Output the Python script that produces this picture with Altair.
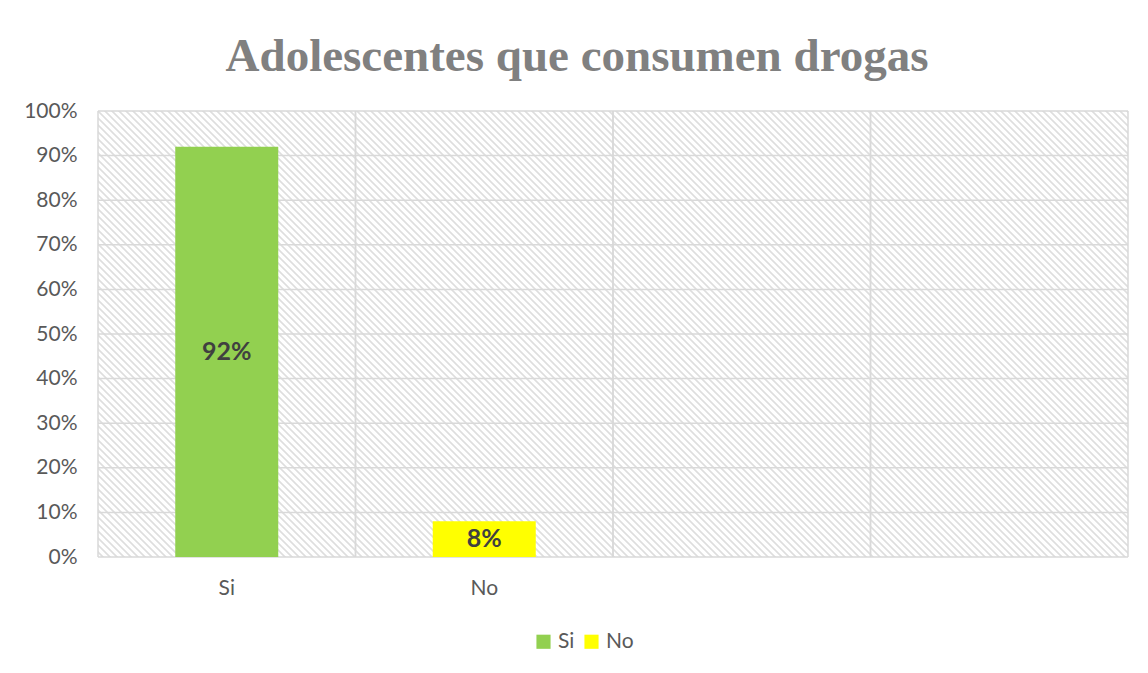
import base64
import altair as alt
import pandas as pd

# ---- data ----
categories = ["Si", "No", "c3", "c4"]
bar_cats = ["Si", "No"]
bar_values = [0.92, 0.08]
bar_labels = ["92%", "8%"]
bar_colors = ["#92D050", "#FFFF00"]
y_ticks = [0.0, 0.1, 0.2, 0.3, 0.4, 0.5, 0.6, 0.7, 0.8, 0.9, 1.0]
title_text = "Adolescentes que consumen drogas"

W, H = 1030, 446

df_bars = pd.DataFrame({"cat": bar_cats, "v": bar_values, "lab": bar_labels})
df_cats = pd.DataFrame({"cat": categories})
df_ticks = pd.DataFrame({"t": y_ticks})
df_one = pd.DataFrame({"k": [0]})

# hatch background as an svg pattern image
svg = (
    f"<svg xmlns='http://www.w3.org/2000/svg' width='{W}' height='{H}'>"
    "<defs><pattern id='p' width='7' height='7' patternUnits='userSpaceOnUse'>"
    "<path d='M-1,-1 L8,8 M-1,6 L1,8 M6,-1 L8,1' stroke='#dedede' stroke-width='1.6'/>"
    "</pattern></defs><rect width='100%' height='100%' fill='white'/>"
    "<rect width='100%' height='100%' fill='url(#p)'/></svg>"
)
uri = "data:image/svg+xml;base64," + base64.b64encode(svg.encode()).decode()

xscale = alt.Scale(domain=categories, paddingInner=0, paddingOuter=0)
yscale = alt.Scale(domain=[0, 1])
font = "Lato"
grid_color = "#d9d9d9"
label_color = "#595959"

bg = alt.Chart(df_one).mark_image(
    width=W, height=H, align="left", baseline="top", aspect=False
).encode(url=alt.value(uri), x=alt.value(0), y=alt.value(0))

hgrid = alt.Chart(df_ticks).mark_rule(color=grid_color, strokeWidth=1.5).encode(
    y=alt.Y(
        "t:Q",
        scale=yscale,
        axis=alt.Axis(
            values=y_ticks, format="%", grid=False, ticks=False, domain=False,
            labelFontSize=21, labelColor=label_color, labelFont=font,
            labelPadding=21, title=None,
        ),
    )
)

vgrid0 = alt.Chart(df_cats).mark_rule(color=grid_color, strokeWidth=1.5).encode(
    x=alt.X("cat:N", scale=xscale, bandPosition=0, axis=None)
)
vgrid1 = alt.Chart(df_cats).mark_rule(color=grid_color, strokeWidth=1.5).encode(
    x=alt.X("cat:N", scale=xscale, bandPosition=1, axis=None)
)

bars = alt.Chart(df_bars).mark_bar(width=alt.RelativeBandSize(0.4)).encode(
    x=alt.X(
        "cat:N",
        scale=xscale,
        sort=categories,
        axis=alt.Axis(
            labelExpr="datum.value == 'Si' || datum.value == 'No' ? datum.value : ''",
            grid=False, ticks=False, domain=False, labelAngle=0,
            labelFontSize=21, labelColor=label_color, labelFont=font,
            labelPadding=20, title=None,
        ),
    ),
    y=alt.Y("v:Q", scale=yscale),
    color=alt.Color(
        "cat:N",
        scale=alt.Scale(domain=bar_cats, range=bar_colors),
        legend=alt.Legend(
            title=None, orient="none", legendX=435, legendY=520,
            direction="horizontal", symbolType="square", symbolSize=200,
            symbolStrokeWidth=0, labelFontSize=21, labelColor=label_color,
            labelFont=font, columnPadding=6, labelOffset=4,
        ),
    ),
)

texts = alt.Chart(df_bars).transform_calculate(mid="datum.v / 2").mark_text(
    fontSize=25, fontWeight="bold", color="#404040", font=font, baseline="middle"
).encode(
    x=alt.X("cat:N", scale=xscale, axis=None),
    y=alt.Y("mid:Q", scale=yscale),
    text="lab:N",
)

chart = alt.layer(bg, hgrid, vgrid0, vgrid1, bars, texts).resolve_axis(
    x="independent"
).properties(
    width=W,
    height=H,
    title=alt.TitleParams(
        title_text, font="Liberation Serif", fontSize=47, fontWeight="bold",
        color="#808080", anchor="middle", dx=-36, offset=19,
    ),
    autosize=alt.AutoSizeParams(type="none"),
    padding={"left": 90, "top": 103, "right": 4, "bottom": 100},
    background="white",
).configure_view(stroke=None)

chart.save("out.html", embed_options={"renderer": "svg", "actions": False})
